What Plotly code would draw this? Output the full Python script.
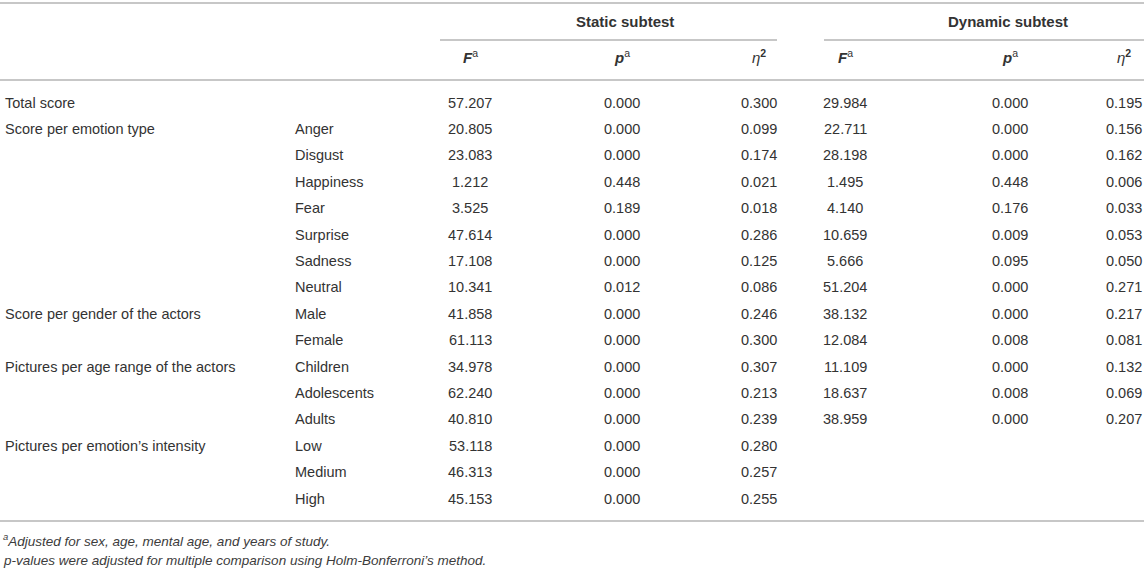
import plotly.graph_objects as go

# ============================================================================
# ANCOVA table — static vs dynamic subtest (F, p, eta squared)
# ============================================================================

groups = ["Total score", "Score per emotion type", "", "", "", "", "", "",
          "Score per gender of the actors", "",
          "Pictures per age range of the actors", "", "",
          "Pictures per emotion’s intensity", "", ""]
sublabels = ["", "Anger", "Disgust", "Happiness", "Fear", "Surprise", "Sadness", "Neutral",
             "Male", "Female", "Children", "Adolescents", "Adults", "Low", "Medium", "High"]

static_F = [57.207, 20.805, 23.083, 1.212, 3.525, 47.614, 17.108, 10.341,
            41.858, 61.113, 34.978, 62.240, 40.810, 53.118, 46.313, 45.153]
static_p = [0.000, 0.000, 0.000, 0.448, 0.189, 0.000, 0.000, 0.012,
            0.000, 0.000, 0.000, 0.000, 0.000, 0.000, 0.000, 0.000]
static_eta = [0.300, 0.099, 0.174, 0.021, 0.018, 0.286, 0.125, 0.086,
              0.246, 0.300, 0.307, 0.213, 0.239, 0.280, 0.257, 0.255]

# dynamic subtest has no intensity rows
dyn_F = [29.984, 22.711, 28.198, 1.495, 4.140, 10.659, 5.666, 51.204,
         38.132, 12.084, 11.109, 18.637, 38.959, None, None, None]
dyn_p = [0.000, 0.000, 0.000, 0.448, 0.176, 0.009, 0.095, 0.000,
         0.000, 0.008, 0.000, 0.008, 0.000, None, None, None]
dyn_eta = [0.195, 0.156, 0.162, 0.006, 0.033, 0.053, 0.050, 0.271,
           0.217, 0.081, 0.132, 0.069, 0.207, None, None, None]

subtests = ["Static subtest", "Dynamic subtest"]
col_heads = ["<b><i>F</i></b><sup>a</sup>", "<b><i>p</i></b><sup>a</sup>", "<i>η</i><sup><b>2</b></sup>"]
footnotes = ["<i><sup>a</sup>Adjusted for sex, age, mental age, and years of study.</i>",
             "<i>p-values were adjusted for multiple comparison using Holm-Bonferroni’s method.</i>"]

W, H = 1144, 568
FONT = "Liberation Sans, Arial, Helvetica, sans-serif"
TXT = "#333333"
RULE = "#b4b4b4"

# layout positions (pixels)
x_group, x_sub = 3, 293
col_x = [[470, 622, 759], [845, 1010, 1124]]
head_x = [625, 1008]
under_x = [[440, 777], [824, 1144]]
y_title, y_under, y_head, y_rule = 21, 40, 56, 80
y_row0, row_h = 102.5, 26.4
y_bottom = 521
y_notes = [540, 560]

fig = go.Figure()
ann = []


def txt(x, y, s, anchor="center", size=14.5, color=TXT):
    ann.append(dict(x=x, y=y, text=s, showarrow=False, xanchor=anchor, yanchor="middle",
                    font=dict(family=FONT, size=size, color=color)))


# header
for k, name in enumerate(subtests):
    txt(head_x[k], y_title, f"<b>{name}</b>", size=15)
    for j, h in enumerate(col_heads):
        txt(col_x[k][j], y_head, h, size=15)

# body
for i in range(len(sublabels)):
    y = y_row0 + i * row_h
    if groups[i]:
        txt(x_group, y, groups[i], anchor="left")
    if sublabels[i]:
        txt(x_sub, y, sublabels[i], anchor="left")
    for k, cols in enumerate([(static_F, static_p, static_eta), (dyn_F, dyn_p, dyn_eta)]):
        for j, vals in enumerate(cols):
            if vals[i] is not None:
                txt(col_x[k][j], y, f"{vals[i]:.3f}")

# footnotes
for y, s in zip(y_notes, footnotes):
    txt(1, y, s, anchor="left", size=13.5, color="#3c3c3c")

# rules
shapes = []
for y in (3, y_rule, y_bottom):
    shapes.append(dict(type="line", x0=0, x1=W, y0=y, y1=y, line=dict(color=RULE, width=1.5)))
for x0, x1 in under_x:
    shapes.append(dict(type="line", x0=x0, x1=x1, y0=y_under, y1=y_under,
                       line=dict(color=RULE, width=1.5)))

fig.update_layout(
    width=W, height=H,
    margin=dict(l=0, r=0, t=0, b=0),
    paper_bgcolor="white", plot_bgcolor="white",
    xaxis=dict(range=[0, W], visible=False, fixedrange=True),
    yaxis=dict(range=[H, 0], visible=False, fixedrange=True),
    annotations=ann, shapes=shapes, showlegend=False,
)

fig.write_html("out.html", config={"displayModeBar": False},
               post_script="document.body.style.margin='0';")
